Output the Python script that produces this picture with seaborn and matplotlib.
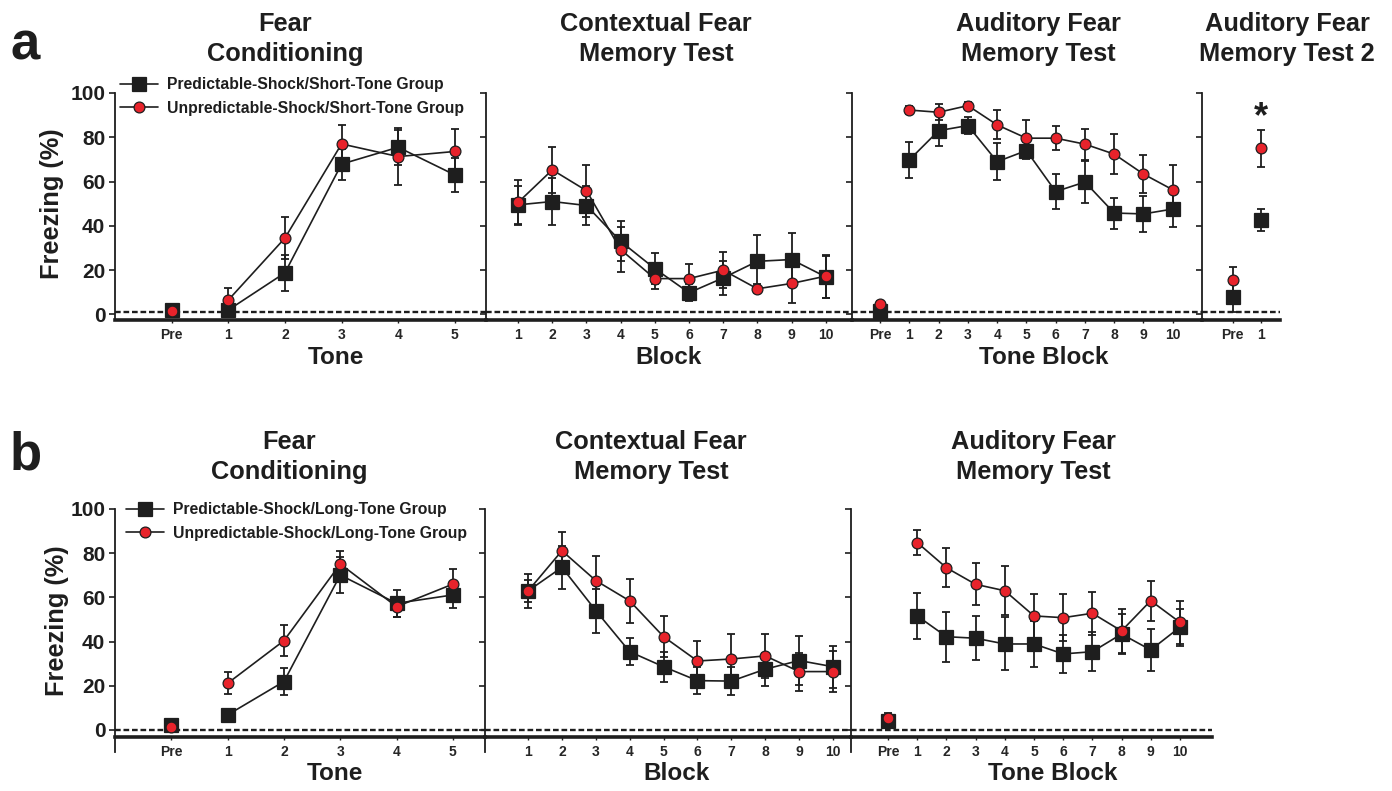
import numpy as np
import matplotlib.pyplot as plt
import seaborn as sns

# =========================
# Data (freezing %, mean and SEM)
# =========================
cond_ticks = ["Pre", "1", "2", "3", "4", "5"]
block_ticks = ["1", "2", "3", "4", "5", "6", "7", "8", "9", "10"]
tone_block_ticks = ["Pre", "1", "2", "3", "4", "5", "6", "7", "8", "9", "10"]
test2_ticks = ["Pre", "1"]

# row a : short-tone groups
a_cond_pred = [2.0, 2.0, 18.8, 67.9, 75.5, 63.0]
a_cond_pred_sem = [1.0, 1.5, 8.0, 7.0, 8.0, 7.5]
a_cond_unpred = [1.5, 6.5, 34.5, 77.0, 71.3, 73.6]
a_cond_unpred_sem = [0.8, 5.5, 9.5, 8.6, 13.0, 10.0]

a_ctx_pred = [49.5, 51.0, 49.2, 33.0, 20.7, 9.8, 16.5, 24.0, 24.8, 17.0]
a_ctx_pred_sem = [8.5, 10.5, 8.7, 9.0, 7.0, 3.8, 7.5, 12.0, 12.0, 9.5]
a_ctx_unpred = [50.6, 65.3, 55.9, 29.3, 16.2, 16.2, 20.0, 11.6, 14.0, 17.3]
a_ctx_unpred_sem = [10.0, 10.5, 11.7, 10.0, 4.6, 6.8, 8.0, 2.0, 9.0, 9.7]

a_aud_pred = [1.5, 69.8, 83.0, 85.3, 69.0, 74.0, 55.5, 59.8, 45.8, 45.4, 47.6]
a_aud_pred_sem = [1.0, 8.0, 7.0, 4.0, 8.5, 4.0, 8.0, 9.5, 7.0, 8.2, 8.0]
a_aud_unpred = [4.8, 92.3, 91.3, 94.3, 85.6, 79.6, 79.6, 76.9, 72.4, 63.4, 56.3]
a_aud_unpred_sem = [1.5, 2.0, 3.7, 1.5, 6.5, 8.0, 5.5, 7.0, 9.0, 8.5, 11.0]

a_aud2_pred = [7.8, 42.5]
a_aud2_pred_sem = [6.5, 5.0]
a_aud2_unpred = [15.5, 75.0]
a_aud2_unpred_sem = [6.0, 8.5]

# row b : long-tone groups
b_cond_pred = [2.3, 6.8, 21.9, 70.1, 57.3, 61.1]
b_cond_pred_sem = [1.0, 1.5, 6.0, 8.3, 6.0, 5.8]
b_cond_unpred = [1.5, 21.1, 40.4, 75.1, 55.8, 66.0]
b_cond_unpred_sem = [0.8, 5.0, 7.0, 6.0, 4.5, 7.0]

b_ctx_pred = [62.9, 73.6, 54.0, 35.4, 28.6, 22.3, 22.1, 27.5, 31.4, 28.6]
b_ctx_pred_sem = [5.0, 9.6, 10.0, 6.0, 6.7, 6.2, 6.3, 7.5, 11.0, 9.5]
b_ctx_unpred = [62.9, 81.1, 67.6, 58.4, 42.2, 31.2, 32.1, 33.5, 26.4, 26.4]
b_ctx_unpred_sem = [7.5, 8.6, 11.0, 10.0, 9.4, 9.0, 11.3, 10.0, 8.6, 9.4]

b_aud_pred = [4.2, 51.6, 42.2, 41.5, 38.9, 38.9, 34.4, 35.4, 43.4, 36.2, 46.5]
b_aud_pred_sem = [2.0, 10.5, 11.3, 10.0, 12.0, 10.3, 8.5, 8.7, 9.0, 9.4, 8.4]
b_aud_unpred = [5.6, 84.8, 73.4, 65.9, 63.0, 51.6, 50.8, 52.8, 44.8, 58.5, 48.7]
b_aud_unpred_sem = [2.0, 5.7, 8.8, 9.5, 11.0, 9.8, 10.6, 9.8, 9.8, 9.0, 9.8]

a_labels = ["Predictable-Shock/Short-Tone Group", "Unpredictable-Shock/Short-Tone Group"]
b_labels = ["Predictable-Shock/Long-Tone Group", "Unpredictable-Shock/Long-Tone Group"]

# =========================
# Style
# =========================
sns.set_style("white")
plt.rcParams["font.family"] = ["Liberation Sans", "DejaVu Sans"]
plt.rcParams["font.weight"] = "bold"
INK = "#1e1e1e"
RED = "#e8232b"

W, H = 1392, 791
fig = plt.figure(figsize=(W / 100, H / 100), dpi=100)


def px_axes(x0, x1, ytop, ybot):
    return fig.add_axes([x0 / W, 1 - ybot / H, (x1 - x0) / W, (ybot - ytop) / H])


def draw_group(ax, xs, ys, sem, pred, connect_from, label=None):
    xs = np.asarray(xs, dtype=float)
    ys = np.asarray(ys, dtype=float)
    sem = np.asarray(sem, dtype=float)
    z = 3 if pred else 5
    style = dict(color=INK, linewidth=1.2, markeredgecolor=INK, markeredgewidth=0.9,
                 clip_on=False, zorder=z)
    if pred:
        style.update(marker="s", markersize=9.4, markerfacecolor=INK)
    else:
        style.update(marker="o", markersize=7.8, markerfacecolor=RED)
    ax.errorbar(xs, ys, yerr=sem, fmt="none", ecolor=INK, elinewidth=1.3,
                capsize=3.2, capthick=1.3, zorder=z - 1, clip_on=False)
    conn = xs >= connect_from
    if conn.sum() > 1:
        sns.lineplot(x=xs[conn], y=ys[conn], ax=ax, sort=False, errorbar=None,
                     label=label, legend=False, **style)
    single = np.where(~conn)[0] if conn.sum() > 1 else np.arange(len(xs))
    for i in single:
        sns.lineplot(x=[xs[i]], y=[ys[i]], ax=ax, errorbar=None, legend=False,
                     linestyle="none", **style)


def setup(ax, xlim, ylim, xticks, xticklabels, base_y, dash_y, first):
    ax.set_xlim(xlim)
    ax.set_ylim(ylim)
    ax.set_xticks(xticks)
    ax.set_xticklabels(xticklabels, fontsize=10.5, fontweight="bold", color=INK)
    ax.set_yticks([0, 20, 40, 60, 80, 100])
    if first:
        ax.set_yticklabels(["0", "20", "40", "60", "80", "100"], fontsize=15,
                           fontweight="bold", color=INK)
    else:
        ax.set_yticklabels([])
    for s in ["top", "right"]:
        ax.spines[s].set_visible(False)
    ax.spines["left"].set_color(INK)
    ax.spines["left"].set_linewidth(1.3)
    ax.spines["left"].set_bounds(ylim[0], 100)
    ax.spines["bottom"].set_position(("data", base_y))
    ax.spines["bottom"].set_color(INK)
    ax.spines["bottom"].set_linewidth(2.6)
    ax.axhline(dash_y, color=INK, linewidth=1.7, linestyle=(0, (2.4, 1.2)), zorder=1)
    ax.tick_params(axis="y", direction="out", length=4, width=1.2, color=INK, pad=3,
                   left=True)
    ax.tick_params(axis="x", direction="out", length=2, width=1.0, color=INK, pad=4,
                   bottom=True)
    ax.set_xlabel("")
    ax.set_ylabel("")
    ax.patch.set_alpha(0)


pre6 = np.arange(6)
blocks = np.arange(1, 11)
pre11 = np.arange(11)

# =========================
# Row a
# =========================
A_TOP, A_BOT = 93, 320
a1 = px_axes(115, 486, A_TOP, A_BOT)
a2 = px_axes(486, 852, A_TOP, A_BOT)
a3 = px_axes(852, 1202, A_TOP, A_BOT)
a4 = px_axes(1202, 1280, A_TOP, A_BOT)

draw_group(a1, pre6, a_cond_pred, a_cond_pred_sem, True, 1, a_labels[0])
draw_group(a1, pre6, a_cond_unpred, a_cond_unpred_sem, False, 1, a_labels[1])
draw_group(a2, blocks, a_ctx_pred, a_ctx_pred_sem, True, 1)
draw_group(a2, blocks, a_ctx_unpred, a_ctx_unpred_sem, False, 1)
draw_group(a3, pre11, a_aud_pred, a_aud_pred_sem, True, 1)
draw_group(a3, pre11, a_aud_unpred, a_aud_unpred_sem, False, 1)
draw_group(a4, [0, 1], a_aud2_pred, a_aud2_pred_sem, True, 99)
draw_group(a4, [0, 1], a_aud2_unpred, a_aud2_unpred_sem, False, 99)

setup(a1, (-1.0, 5.55), (-2.5, 100), pre6, cond_ticks, -2.5, 1.0, True)
setup(a2, (0.06, 10.77), (-2.5, 100), blocks, block_ticks, -2.5, 1.0, False)
setup(a3, (-0.96, 11.0), (-2.5, 100), pre11, tone_block_ticks, -2.5, 1.0, False)
setup(a4, (-1.1, 1.68), (-2.5, 100), [0, 1], test2_ticks, -2.5, 1.0, False)
a4.text(1, 88.7, "*", ha="center", va="center", fontsize=26, fontweight="bold", color=INK)

# =========================
# Row b
# =========================
B_TOP, B_BOT = 509, 752
b1 = px_axes(115, 485, B_TOP, B_BOT)
b2 = px_axes(485, 851, B_TOP, B_BOT)
b3 = px_axes(851, 1212, B_TOP, B_BOT)

draw_group(b1, pre6, b_cond_pred, b_cond_pred_sem, True, 1, b_labels[0])
draw_group(b1, pre6, b_cond_unpred, b_cond_unpred_sem, False, 1, b_labels[1])
draw_group(b2, blocks, b_ctx_pred, b_ctx_pred_sem, True, 1)
draw_group(b2, blocks, b_ctx_unpred, b_ctx_unpred_sem, False, 1)
draw_group(b3, pre11, b_aud_pred, b_aud_pred_sem, True, 1)
draw_group(b3, pre11, b_aud_unpred, b_aud_unpred_sem, False, 1)

setup(b1, (-1.0, 5.57), (-10, 100), pre6, cond_ticks, -3.2, 0.0, True)
setup(b2, (-0.27, 10.53), (-10, 100), blocks, block_ticks, -3.2, 0.0, False)
setup(b3, (-1.27, 11.1), (-10, 100), pre11, tone_block_ticks, -3.2, 0.0, False)

# =========================
# Legends
# =========================
for ax, (lx, ly) in [(a1, (120, 77)), (b1, (126, 502))]:
    h, l = ax.get_legend_handles_labels()
    ax.legend(h, l, loc="upper left", bbox_to_anchor=(lx / W, 1 - ly / H),
              bbox_transform=fig.transFigure, frameon=False, borderpad=0,
              borderaxespad=0, handlelength=2.4, handletextpad=0.6, labelspacing=0.55,
              prop={"size": 11.3, "weight": "bold"}, labelcolor=INK)

# =========================
# Titles, axis labels, panel letters
# =========================
def ftext(x, y, s, **kw):
    fig.text(x / W, 1 - y / H, s, color=INK, fontweight="bold", **kw)

for x, y, s in [(285, 39, "Fear\nConditioning"), (656, 39, "Contextual Fear\nMemory Test"),
                (1038, 39, "Auditory Fear\nMemory Test"), (1287, 39, "Auditory Fear\nMemory Test 2"),
                (289, 457, "Fear\nConditioning"), (651, 457, "Contextual Fear\nMemory Test"),
                (1033, 457, "Auditory Fear\nMemory Test")]:
    ftext(x, y, s, ha="center", va="center", fontsize=18.3, linespacing=1.32,
          multialignment="center")

for x, y, s in [(336, 357, "Tone"), (669, 357, "Block"), (1044, 357, "Tone Block"),
                (335, 774, "Tone"), (677, 774, "Block"), (1053, 774, "Tone Block")]:
    ftext(x, y, s, ha="center", va="center", fontsize=17.5)

ftext(52, 204, "Freezing (%)", ha="center", va="center", fontsize=18.3, rotation=90)
ftext(57, 621, "Freezing (%)", ha="center", va="center", fontsize=18.3, rotation=90)

ftext(10, 59, "a", ha="left", va="baseline", fontsize=38)
ftext(10, 470, "b", ha="left", va="baseline", fontsize=38)

fig.savefig("out.png", dpi=100)
